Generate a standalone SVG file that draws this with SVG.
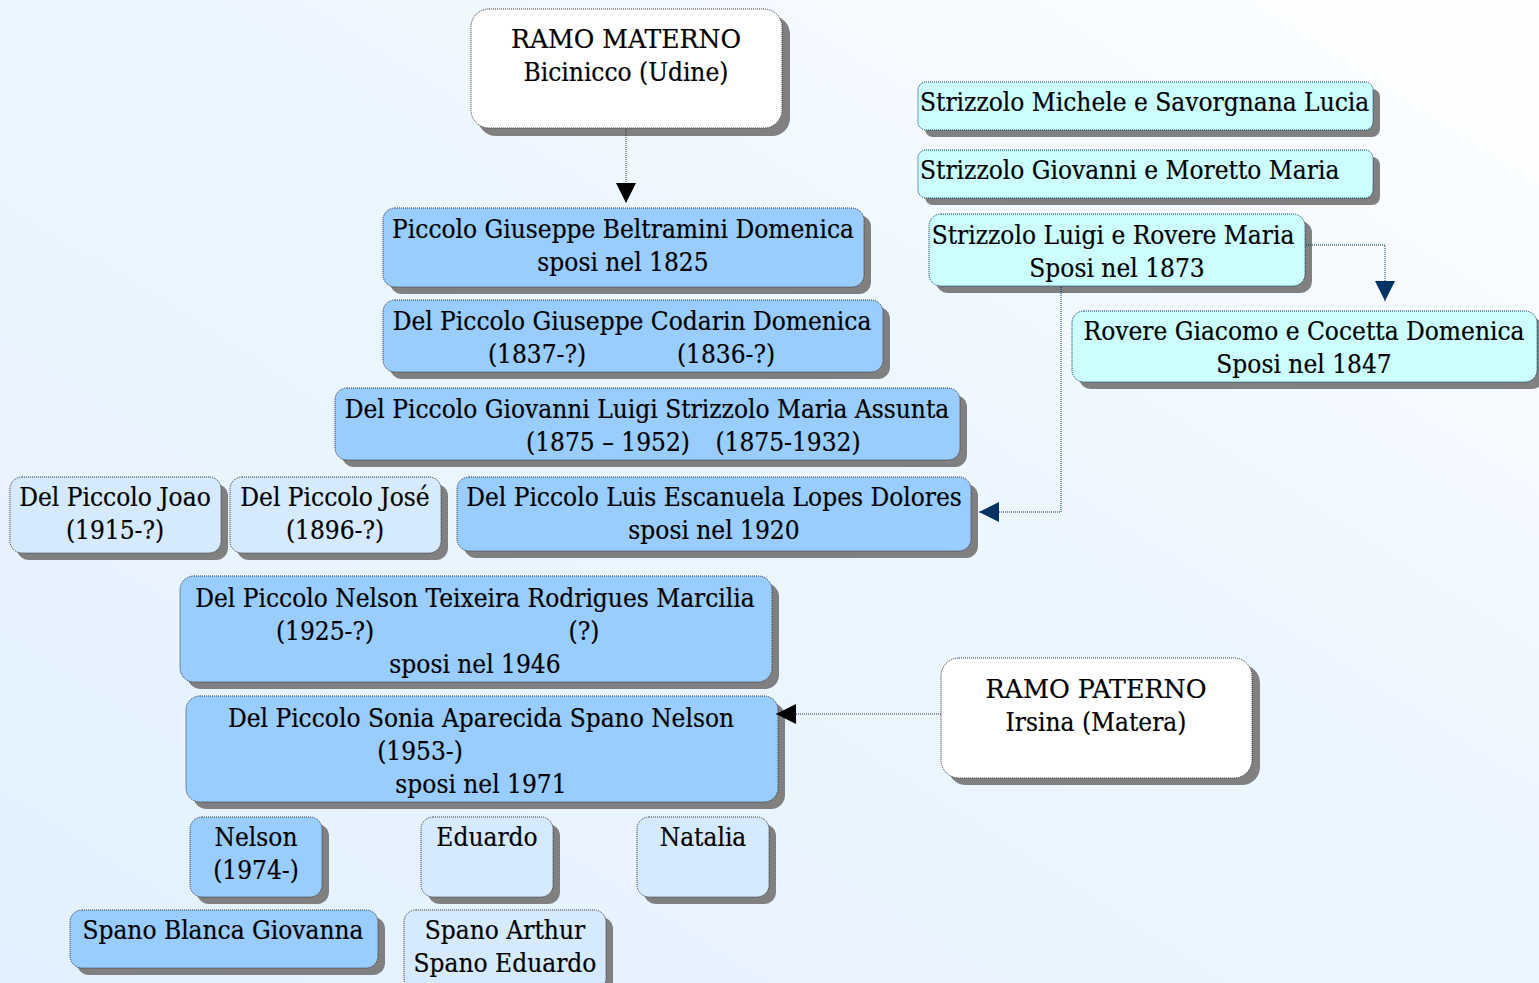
<svg xmlns="http://www.w3.org/2000/svg" width="1539" height="983" viewBox="0 0 1539 983">
<defs>
<linearGradient id="bg" x1="0" y1="1" x2="1" y2="0">
<stop offset="0" stop-color="#e2f1ff"/>
<stop offset="0.6" stop-color="#eef7ff"/>
<stop offset="1" stop-color="#ffffff"/>
</linearGradient>
<marker id="ab" viewBox="0 0 20 20" refX="20" refY="10" markerWidth="20" markerHeight="20" markerUnits="userSpaceOnUse" orient="auto"><path d="M0,0 L20,10 L0,20 Z" fill="#000"/></marker>
<marker id="an" viewBox="0 0 20 20" refX="20" refY="10" markerWidth="20" markerHeight="20" markerUnits="userSpaceOnUse" orient="auto"><path d="M0,0 L20,10 L0,20 Z" fill="#003366"/></marker>
</defs>
<style>
.sh{fill:#808080}
.b{stroke:#333;stroke-width:1;stroke-dasharray:1 1}
.white{fill:#ffffff}
.blue{fill:#99ccff}
.light{fill:#d5eaff}
.cyan{fill:#ccffff;stroke:#003366}
text{font-family:"DejaVu Serif Condensed","DejaVu Serif",serif;font-stretch:condensed;font-size:26px;fill:#000;text-anchor:middle;stroke:#000;stroke-width:0.2}
.l{text-anchor:start}
.c{fill:none;stroke:#333;stroke-width:1;stroke-dasharray:1 1}
.cn{fill:none;stroke:#003366;stroke-width:1;stroke-dasharray:1 1}
</style>
<rect width="1539" height="983" fill="url(#bg)"/>
<g id="ramo-materno">
<rect class="sh" x="478" y="16" width="312" height="120" rx="18"/>
<rect class="b white" x="471" y="9" width="311" height="119" rx="18"/>
<text x="626" y="48" textLength="230" lengthAdjust="spacingAndGlyphs">RAMO MATERNO</text>
<text x="626" y="81">Bicinicco (Udine)</text>
</g>
<g id="piccolo-giuseppe">
<rect class="sh" x="390" y="215" width="481" height="79" rx="12"/>
<rect class="b blue" x="383" y="208" width="481" height="79" rx="12"/>
<text x="623" y="238">Piccolo Giuseppe Beltramini Domenica</text>
<text x="623" y="271">sposi nel 1825</text>
</g>
<g id="del-piccolo-giuseppe">
<rect class="sh" x="390" y="307" width="500" height="72" rx="12"/>
<rect class="b blue" x="383" y="300" width="500" height="72" rx="12"/>
<text x="632" y="330">Del Piccolo Giuseppe Codarin Domenica</text>
<text x="537" y="363">(1837-?)</text>
<text x="726" y="363">(1836-?)</text>
</g>
<g id="del-piccolo-giovanni">
<rect class="sh" x="342" y="395" width="625" height="72" rx="12"/>
<rect class="b blue" x="335" y="388" width="625" height="72" rx="12"/>
<text x="647" y="418">Del Piccolo Giovanni Luigi Strizzolo Maria Assunta</text>
<text x="608" y="451">(1875 – 1952)</text>
<text x="788" y="451">(1875-1932)</text>
</g>
<g id="joao">
<rect class="sh" x="17" y="484" width="211" height="76" rx="12"/>
<rect class="b light" x="10" y="477" width="211" height="76" rx="12"/>
<text x="115" y="506">Del Piccolo Joao</text>
<text x="115" y="539">(1915-?)</text>
</g>
<g id="jose">
<rect class="sh" x="237" y="484" width="211" height="76" rx="12"/>
<rect class="b light" x="230" y="477" width="211" height="76" rx="12"/>
<text x="335" y="506">Del Piccolo José</text>
<text x="335" y="539">(1896-?)</text>
</g>
<g id="luis">
<rect class="sh" x="464" y="484" width="514" height="74" rx="12"/>
<rect class="b blue" x="457" y="477" width="514" height="74" rx="12"/>
<text x="714" y="506">Del Piccolo Luis Escanuela Lopes Dolores</text>
<text x="714" y="539">sposi nel 1920</text>
</g>
<g id="nelson-teixeira">
<rect class="sh" x="187" y="583" width="592" height="106" rx="14"/>
<rect class="b blue" x="180" y="576" width="592" height="106" rx="14"/>
<text x="475" y="607">Del Piccolo Nelson Teixeira Rodrigues Marcilia</text>
<text x="325" y="640">(1925-?)</text>
<text x="584" y="640">(?)</text>
<text x="475" y="673">sposi nel 1946</text>
</g>
<g id="sonia">
<rect class="sh" x="193" y="703" width="592" height="106" rx="14"/>
<rect class="b blue" x="186" y="696" width="592" height="106" rx="14"/>
<text x="481" y="727">Del Piccolo Sonia Aparecida Spano Nelson</text>
<text x="420" y="760">(1953-)</text>
<text x="481" y="793">sposi nel 1971</text>
</g>
<g id="ramo-paterno">
<rect class="sh" x="948" y="665" width="312" height="120" rx="18"/>
<rect class="b white" x="941" y="658" width="311" height="120" rx="18"/>
<text x="1096" y="698" textLength="221" lengthAdjust="spacingAndGlyphs">RAMO PATERNO</text>
<text x="1096" y="731">Irsina (Matera)</text>
</g>
<g id="nelson">
<rect class="sh" x="197" y="824" width="132" height="80" rx="12"/>
<rect class="b blue" x="190" y="817" width="132" height="80" rx="12"/>
<text x="256" y="846">Nelson</text>
<text x="256" y="879">(1974-)</text>
</g>
<g id="eduardo">
<rect class="sh" x="428" y="824" width="132" height="80" rx="12"/>
<rect class="b light" x="421" y="817" width="132" height="80" rx="12"/>
<text x="487" y="846">Eduardo</text>
</g>
<g id="natalia">
<rect class="sh" x="644" y="824" width="132" height="80" rx="12"/>
<rect class="b light" x="637" y="817" width="132" height="80" rx="12"/>
<text x="703" y="846">Natalia</text>
</g>
<g id="spano-blanca">
<rect class="sh" x="77" y="917" width="308" height="58" rx="12"/>
<rect class="b blue" x="70" y="910" width="308" height="58" rx="12"/>
<text x="223" y="939">Spano Blanca Giovanna</text>
</g>
<g id="spano-arthur">
<rect class="sh" x="411" y="917" width="202" height="80" rx="12"/>
<rect class="b light" x="404" y="910" width="202" height="80" rx="12"/>
<text x="505" y="939">Spano Arthur</text>
<text x="505" y="972">Spano Eduardo</text>
</g>
<g id="strizzolo-michele">
<rect class="sh" x="925" y="89" width="455" height="48" rx="8"/>
<rect class="b cyan" x="918" y="82" width="455" height="48" rx="8"/>
<text class="l" x="920" y="111">Strizzolo Michele e Savorgnana Lucia</text>
</g>
<g id="strizzolo-giovanni">
<rect class="sh" x="925" y="157" width="455" height="48" rx="8"/>
<rect class="b cyan" x="918" y="150" width="455" height="48" rx="8"/>
<text class="l" x="920" y="179">Strizzolo Giovanni e Moretto Maria</text>
</g>
<g id="strizzolo-luigi">
<rect class="sh" x="936" y="221" width="376" height="72" rx="12"/>
<rect class="b cyan" x="929" y="214" width="376" height="72" rx="12"/>
<text x="1113" y="244">Strizzolo Luigi e Rovere Maria</text>
<text x="1117" y="277">Sposi nel 1873</text>
</g>
<g id="rovere-giacomo">
<rect class="sh" x="1079" y="318" width="465" height="71" rx="12"/>
<rect class="b cyan" x="1072" y="311" width="465" height="71" rx="12"/>
<text x="1304" y="340">Rovere Giacomo e Cocetta Domenica</text>
<text x="1304" y="373">Sposi nel 1847</text>
</g>
<g id="connectors">
<path class="c" d="M626,129 V203" marker-end="url(#ab)"/>
<path class="c" d="M941,714 H776" marker-end="url(#ab)"/>
<path class="cn" d="M1061,287 V512 H979" marker-end="url(#an)"/>
<path class="cn" d="M1306,245 H1385 V301" marker-end="url(#an)"/>
</g>
</svg>
